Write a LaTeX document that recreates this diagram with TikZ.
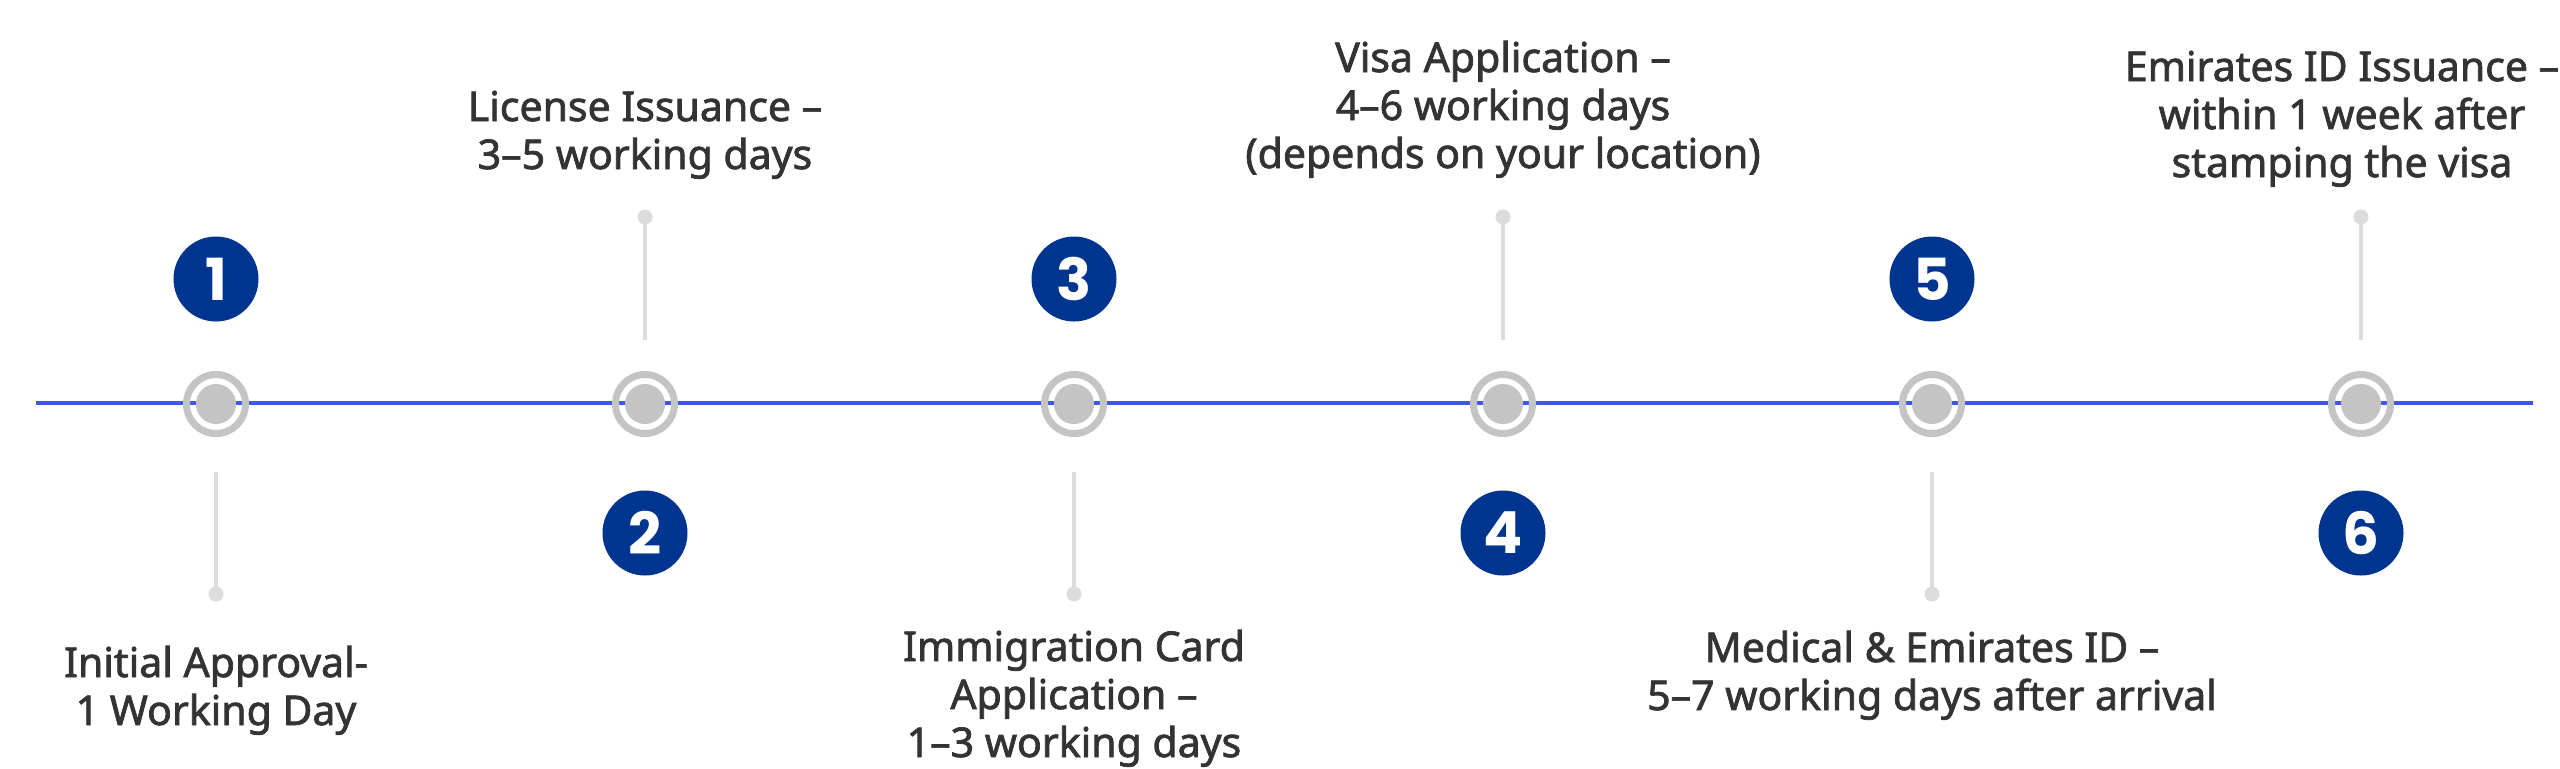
\documentclass[tikz,border=0pt]{standalone}
\usepackage{fontspec}
\setmainfont{Noto Sans}
\newfontfamily\lblfont{Noto Sans}[FakeBold=1.8]
\newfontfamily\numfont{Poppins}
\definecolor{lineblue}{HTML}{3F55F0}
\definecolor{numblue}{HTML}{00358F}
\definecolor{ringgray}{HTML}{C4C4C4}
\definecolor{tickgray}{HTML}{DCDCDC}
\definecolor{textgray}{HTML}{333333}
\tikzset{
  timeline/.style={draw=lineblue, line width=1.6pt},
  ring/.style={circle, draw=ringgray, line width=3.5pt, minimum size=29.5pt, inner sep=0pt},
  core/.style={circle, fill=ringgray, minimum size=20pt, inner sep=0pt},
  numc/.style={circle, fill=numblue, minimum size=42.5pt, inner sep=0pt, text=white,
    font=\numfont\bfseries\fontsize{29pt}{29pt}\selectfont},
  tick/.style={draw=tickgray, line width=1.75pt},
  tickdot/.style={circle, fill=tickgray, minimum size=7.5pt, inner sep=0pt},
  lbl/.style={align=center, text=textgray, inner sep=0pt, anchor=base,
    font=\lblfont\fontsize{20.5pt}{24pt}\selectfont}
}
\begin{document}
\begin{tikzpicture}[x=0.5pt,y=-0.5pt]
\useasboundingbox (0,0) rectangle (2560,768);
\fill[white] (0,0) rectangle (2560,768);
% timeline
\coordinate (L) at (36,403);
\coordinate (R) at (2533,403);
\draw[timeline] (L) -- (R);
% markers
\foreach \i/\x in {1/216,2/645,3/1074,4/1503,5/1932,6/2361}{
  \node[ring] (r\i) at (\x,404) {};
  \node[core] (c\i) at (\x,404) {};
}
% number badges
\node[numc] (n1) at (216,279) {1};
\node[numc] (n2) at (645,533) {2};
\node[numc] (n3) at (1074,279) {3};
\node[numc] (n4) at (1503,533) {4};
\node[numc] (n5) at (1932,279) {5};
\node[numc] (n6) at (2361,533) {6};
% ticks below (1,3,5)
\foreach \i/\x in {1/216,3/1074,5/1932}{
  \coordinate (ta\i) at (\x,472);
  \node[tickdot] (tb\i) at (\x,594) {};
  \draw[tick] (ta\i) -- (tb\i.center);
}
% ticks above (2,4,6)
\foreach \i/\x in {2/645,4/1503,6/2361}{
  \coordinate (ta\i) at (\x,340);
  \node[tickdot] (tb\i) at (\x,217) {};
  \draw[tick] (ta\i) -- (tb\i.center);
}
% labels (anchored at the baseline of their last line)
\node[lbl] (l1) at (216,725) {Initial Approval-\\1 Working Day};
\node[lbl] (l2) at (645,169) {License Issuance –\\3–5 working days};
\node[lbl] (l3) at (1074,757) {Immigration Card\\Application –\\1–3 working days};
\node[lbl] (l4) at (1503,168) {Visa Application –\\4–6 working days\\(depends on your location)};
\node[lbl] (l5) at (1932,710) {Medical \& Emirates ID –\\5–7 working days after arrival};
\node[lbl] (l6) at (2342,177) {Emirates ID Issuance –\\within 1 week after\\stamping the visa};
\end{tikzpicture}
\end{document}
